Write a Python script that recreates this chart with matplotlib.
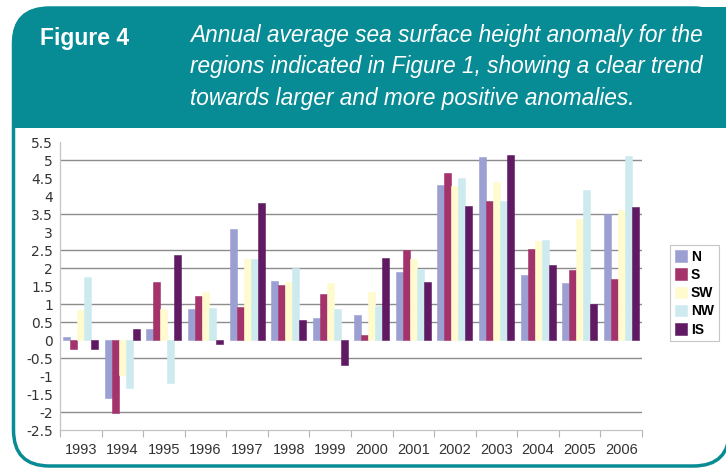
"""
Figure 4: annual average sea surface height anomaly per region
"""
import matplotlib
matplotlib.use('Agg')
import matplotlib.pyplot as plt
import numpy as np
from matplotlib.patches import FancyBboxPatch, Rectangle

# data
years = [1993, 1994, 1995, 1996, 1997, 1998, 1999, 2000, 2001, 2002, 2003, 2004, 2005, 2006]
regions = ['N', 'S', 'SW', 'NW', 'IS']
N = [0.09, -1.60, 0.31, 0.86, 3.10, 1.66, 0.61, 0.70, 1.91, 4.32, 5.09, 1.81, 1.60, 3.51]
S = [-0.24, -2.03, 1.63, 1.22, 0.93, 1.54, 1.29, 0.13, 2.50, 4.65, 3.87, 2.54, 1.95, 1.70]
SW = [0.83, -0.97, 0.87, 1.35, 2.26, 1.63, 1.60, 1.35, 2.26, 4.28, 4.39, 2.76, 3.38, 3.61]
NW = [1.77, -1.32, -1.18, 0.89, 2.26, 2.02, 0.87, 0.94, 1.99, 4.52, 3.87, 2.78, 4.17, 5.12]
IS = [-0.24, 0.31, 2.37, -0.10, 3.81, 0.56, -0.70, 2.29, 1.63, 3.72, 5.16, 2.09, 1.00, 3.70]
series = [N, S, SW, NW, IS]

y_ticks = np.arange(-2.5, 5.51, 0.5)
grid_levels = [5, 3.5, 2.5, 2, 1, 0.5, -0.5, -2]  # only these lines show in the scan

title = 'Figure 4'
caption = ('Annual average sea surface height anomaly for the\n'
           'regions indicated in Figure 1, showing a clear trend\n'
           'towards larger and more positive anomalies.')

colors = ['#9b9fd2', '#a3336a', '#fffbcf', '#cdebef', '#5f1a63']
teal = '#078b94'

W, H = 726, 468
fig = plt.figure(figsize=(W / 100, H / 100), dpi=100)
fig.patch.set_facecolor('white')

# background frame, drawn in pixel coords (y down)
bg = fig.add_axes([0, 0, 1, 1], zorder=-1)
bg.set_xlim(0, W)
bg.set_ylim(H, 0)
bg.axis('off')
bg.add_patch(FancyBboxPatch((13.5, 8), 716, 458, boxstyle='round,pad=0,rounding_size=36',
                            fc='white', ec=teal, lw=2.5))
bg.add_patch(FancyBboxPatch((12, 7), 760, 121, boxstyle='round,pad=0,rounding_size=36',
                            fc=teal, ec='none'))
bg.add_patch(Rectangle((12, 70), 760, 58, fc=teal, ec='none'))

bg.text(40, 38, title, color='white', fontsize=16.5, fontweight='bold',
        family=['Liberation Sans', 'DejaVu Sans'], va='center', ha='left')
bg.text(190, 67, caption, color='white', fontsize=16.3, style='italic',
        family=['Liberation Sans', 'DejaVu Sans'], va='center', ha='left', linespacing=1.45)

# chart
ax = fig.add_axes([60 / W, 1 - 430 / H, 582 / W, 287.5 / H])
x = np.arange(len(years))
width = 0.168
for i, (name, vals) in enumerate(zip(regions, series)):
    ax.bar(x + (i - 2) * width, vals, width=width, color=colors[i], label=name,
           edgecolor=colors[i], linewidth=0.4, zorder=3)

for lv in grid_levels:
    ax.axhline(lv, color='#8c8c8c', lw=1.0, zorder=1)

ax.set_xlim(-0.5, len(years) - 0.5)
ax.set_ylim(-2.5, 5.5)
ax.set_yticks(y_ticks)
ax.set_yticklabels([f'{v:g}' for v in y_ticks], fontsize=10, color='#333333',
                   family='DejaVu Sans')
ax.tick_params(axis='y', length=0, pad=5)

ax.set_xticks(x)
ax.set_xticklabels([str(y) for y in years], fontsize=10.5, color='#333333',
                   family=['Liberation Sans', 'DejaVu Sans'])
ax.set_xticks(np.arange(len(years) + 1) - 0.5, minor=True)
ax.tick_params(axis='x', which='major', length=0, pad=9)
ax.tick_params(axis='x', which='minor', length=5, color='#b5b5b5', width=0.8)

for side in ['top', 'right']:
    ax.spines[side].set_visible(False)
for side in ['left', 'bottom']:
    ax.spines[side].set_color('#c4c4c4')
    ax.spines[side].set_linewidth(0.9)
ax.set_facecolor('none')

leg = fig.legend(loc='upper left', bbox_to_anchor=(670 / W, 1 - 245 / H),
                 prop={'family': ['Liberation Sans', 'DejaVu Sans'], 'weight': 'bold', 'size': 10},
                 frameon=True, fancybox=False, edgecolor='#b8b8b8',
                 handlelength=0.9, handleheight=0.9, handletextpad=0.25,
                 labelspacing=0.3, borderpad=0.35, borderaxespad=0)
leg.get_frame().set_linewidth(0.8)

fig.savefig('out.png', dpi=100)
